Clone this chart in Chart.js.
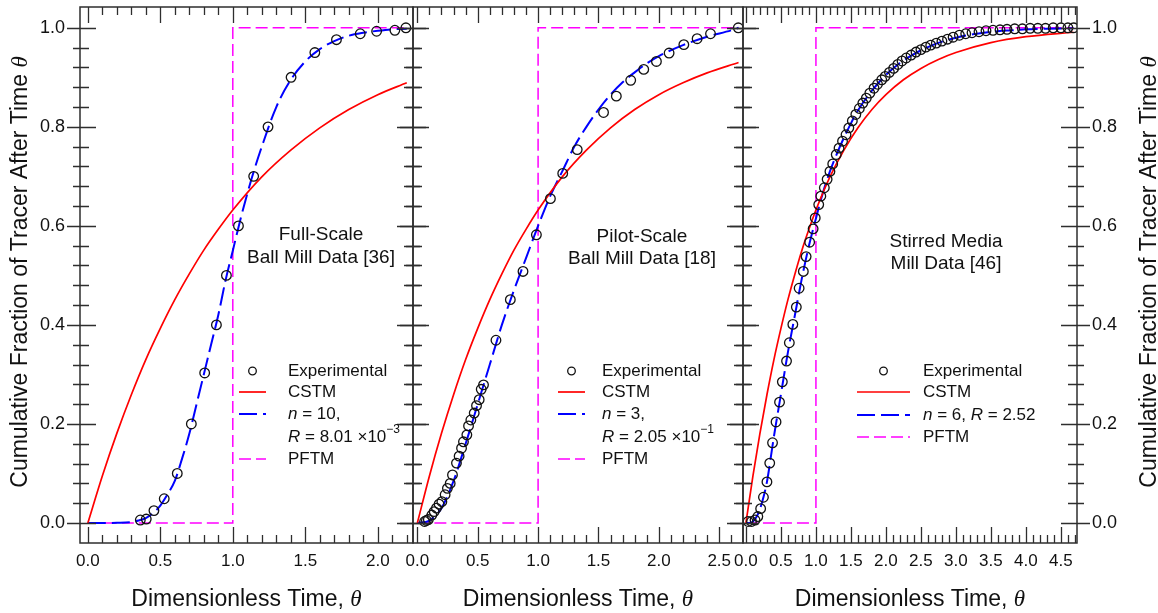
<!DOCTYPE html>
<html>
<head>
<meta charset="utf-8">
<title>Cumulative fraction of tracer vs dimensionless time</title>
<script src="https://cdn.jsdelivr.net/npm/chart.js@4.4.0/dist/chart.umd.min.js"></script>
<style>
  html, body { margin: 0; padding: 0; background: #fff; }
  #wrap { position: relative; width: 1158px; height: 613px; }
  #wrap canvas { position: absolute; left: 0; top: 0; }
</style>
</head>
<body>
<div id="wrap">
  <canvas id="full" width="1158" height="613"></canvas>
  <canvas id="pilot" width="1158" height="613"></canvas>
  <canvas id="stirred" width="1158" height="613"></canvas>
</div>
<script>
const FONT = '"Liberation Sans", Arial, sans-serif';
const SERIF = '"Liberation Serif", "Times New Roman", serif';

// shared y axis
const yTicks = [0.0, 0.2, 0.4, 0.6, 0.8, 1.0];

// full-scale ball mill [36]
const xTicks1 = [0.0, 0.5, 1.0, 1.5, 2.0];
const expTheta1 = [0.362, 0.403, 0.456, 0.527, 0.617, 0.714, 0.806, 0.887, 0.956, 1.039, 1.144, 1.243, 1.402, 1.566, 1.715, 1.879, 1.992, 2.118, 2.194];
const expF1 = [0.006, 0.008, 0.025, 0.049, 0.100, 0.200, 0.303, 0.400, 0.500, 0.600, 0.700, 0.800, 0.900, 0.950, 0.976, 0.988, 0.993, 0.995, 1.000];
const cstmTheta1 = [0, 0.1, 0.2, 0.3, 0.4, 0.5, 0.6, 0.7, 0.8, 0.9, 1.0, 1.2, 1.4, 1.6, 1.8, 2.0, 2.2];
const cstmF1 = [0, 0.095, 0.181, 0.259, 0.330, 0.393, 0.451, 0.503, 0.551, 0.593, 0.632, 0.699, 0.753, 0.798, 0.835, 0.865, 0.889];
const fitTheta1 = [0, 0.1, 0.2, 0.3, 0.35, 0.4, 0.45, 0.5, 0.55, 0.6, 0.65, 0.7, 0.75, 0.8, 0.85, 0.9, 0.95, 1.0, 1.05, 1.1, 1.15, 1.2, 1.3, 1.4, 1.5, 1.6, 1.7, 1.8, 1.9, 2.0, 2.1, 2.2];
const fitF1 = [0, 0, 0.0005, 0.002, 0.005, 0.01, 0.02, 0.035, 0.058, 0.085, 0.13, 0.18, 0.24, 0.30, 0.36, 0.42, 0.49, 0.55, 0.61, 0.665, 0.715, 0.76, 0.84, 0.895, 0.932, 0.957, 0.973, 0.984, 0.99, 0.994, 0.997, 0.998];
const pftmTheta1 = [0, 1, 1, 2.2];
const pftmF1 = [0, 0, 1, 1];

// pilot-scale ball mill [18]
const xTicks2 = [0.0, 0.5, 1.0, 1.5, 2.0, 2.5];
const expTheta2 = [0.06, 0.075, 0.091, 0.12, 0.139, 0.158, 0.18, 0.203, 0.23, 0.249, 0.272, 0.291, 0.324, 0.346, 0.366, 0.382, 0.41, 0.424, 0.443, 0.471, 0.49, 0.512, 0.529, 0.548, 0.651, 0.77, 0.875, 0.986, 1.102, 1.204, 1.324, 1.542, 1.648, 1.767, 1.875, 1.98, 2.085, 2.207, 2.317, 2.428, 2.658];
const expF2 = [0.003, 0.005, 0.007, 0.016, 0.023, 0.030, 0.038, 0.043, 0.057, 0.070, 0.080, 0.097, 0.121, 0.135, 0.151, 0.164, 0.178, 0.196, 0.208, 0.222, 0.237, 0.249, 0.270, 0.279, 0.369, 0.451, 0.508, 0.582, 0.655, 0.706, 0.754, 0.829, 0.862, 0.894, 0.916, 0.932, 0.949, 0.966, 0.978, 0.988, 1.000];
const cstmTheta2 = [0, 0.1, 0.2, 0.3, 0.4, 0.5, 0.6, 0.7, 0.8, 0.9, 1.0, 1.2, 1.4, 1.6, 1.8, 2.0, 2.2, 2.4, 2.66];
const cstmF2 = [0, 0.095, 0.181, 0.259, 0.330, 0.393, 0.451, 0.503, 0.551, 0.593, 0.632, 0.699, 0.753, 0.798, 0.835, 0.865, 0.889, 0.909, 0.930];
const fitTheta2 = [0, 0.1, 0.2, 0.3, 0.4, 0.5, 0.6, 0.7, 0.8, 0.9, 1.0, 1.1, 1.2, 1.3, 1.4, 1.5, 1.6, 1.7, 1.8, 1.9, 2.0, 2.2, 2.4, 2.6, 2.66];
const fitF2 = [0, 0.005, 0.03, 0.085, 0.16, 0.24, 0.32, 0.40, 0.47, 0.535, 0.60, 0.66, 0.71, 0.76, 0.80, 0.835, 0.865, 0.89, 0.91, 0.928, 0.943, 0.965, 0.982, 0.995, 1.0];
const pftmTheta2 = [0, 1, 1, 2.66];
const pftmF2 = [0, 0, 1, 1];

// stirred media mill [46]
const xTicks3 = [0.0, 0.5, 1.0, 1.5, 2.0, 2.5, 3.0, 3.5, 4.0, 4.5];
const expTheta3 = [0.03, 0.08, 0.13, 0.17, 0.21, 0.25, 0.30, 0.34, 0.38, 0.43, 0.48, 0.52, 0.58, 0.62, 0.67, 0.72, 0.76, 0.82, 0.86, 0.91, 0.96, 0.99, 1.04, 1.07, 1.12, 1.16, 1.20, 1.24, 1.29, 1.33, 1.38, 1.43, 1.47, 1.52, 1.57, 1.62, 1.67, 1.72, 1.77, 1.83, 1.88, 1.94, 1.99, 2.05, 2.11, 2.17, 2.23, 2.29, 2.36, 2.43, 2.50, 2.57, 2.64, 2.72, 2.80, 2.88, 2.96, 3.05, 3.14, 3.23, 3.33, 3.43, 3.53, 3.63, 3.73, 3.84, 3.95, 4.06, 4.17, 4.28, 4.39, 4.50, 4.60, 4.68];
const expF3 = [0.003, 0.003, 0.006, 0.013, 0.029, 0.052, 0.083, 0.121, 0.162, 0.204, 0.244, 0.285, 0.327, 0.364, 0.401, 0.436, 0.474, 0.508, 0.538, 0.567, 0.594, 0.616, 0.643, 0.660, 0.677, 0.694, 0.710, 0.725, 0.744, 0.757, 0.771, 0.784, 0.798, 0.812, 0.825, 0.837, 0.848, 0.858, 0.868, 0.878, 0.886, 0.895, 0.902, 0.910, 0.918, 0.926, 0.933, 0.939, 0.945, 0.951, 0.956, 0.961, 0.965, 0.969, 0.973, 0.977, 0.981, 0.985, 0.988, 0.990, 0.992, 0.994, 0.995, 0.996, 0.997, 0.998, 0.998, 0.999, 0.999, 0.999, 1.000, 1.000, 1.000, 1.000];
const cstmTheta3 = [0, 0.1, 0.2, 0.3, 0.4, 0.5, 0.6, 0.7, 0.8, 0.9, 1.0, 1.2, 1.4, 1.6, 1.8, 2.0, 2.25, 2.5, 2.75, 3.0, 3.5, 4.0, 4.68];
const cstmF3 = [0, 0.095, 0.181, 0.259, 0.330, 0.393, 0.451, 0.503, 0.551, 0.593, 0.632, 0.699, 0.753, 0.798, 0.835, 0.865, 0.895, 0.918, 0.936, 0.950, 0.970, 0.982, 0.991];
const fitTheta3 = [0, 0.05, 0.1, 0.15, 0.2, 0.25, 0.3, 0.4, 0.5, 0.6, 0.7, 0.8, 0.9, 1.0, 1.1, 1.2, 1.3, 1.4, 1.5, 1.6, 1.8, 2.0, 2.2, 2.4, 2.6, 2.8, 3.0, 3.2, 3.4, 3.6, 3.8, 4.0, 4.3, 4.68];
const fitF3 = [0, 0, 0.003, 0.012, 0.028, 0.052, 0.083, 0.175, 0.26, 0.345, 0.42, 0.495, 0.56, 0.615, 0.667, 0.71, 0.746, 0.778, 0.807, 0.833, 0.873, 0.905, 0.929, 0.947, 0.961, 0.972, 0.98, 0.986, 0.99, 0.993, 0.995, 0.997, 0.998, 0.999];
const pftmTheta3 = [0, 1, 1, 4.68];
const pftmF3 = [0, 0, 1, 1];

const pts = (xs, ys) => xs.map((x, i) => ({ x: x, y: ys[i] }));

// draws a run of text pieces (italic / superscript) one after another
function drawRuns(ctx, parts, x, y, size, align) {
  const fontOf = p => (p.it ? 'italic ' : '') + (p.sup ? Math.round(size * 0.68) : size) + 'px ' + (p.serif ? SERIF : FONT);
  let w = 0;
  parts.forEach(p => { ctx.font = fontOf(p); w += ctx.measureText(p.t).width; });
  let cx = align === 'center' ? x - w / 2 : x;
  ctx.textAlign = 'left';
  parts.forEach(p => {
    ctx.font = fontOf(p);
    ctx.fillText(p.t, cx, p.sup ? y - size * 0.42 : y);
    cx += ctx.measureText(p.t).width;
  });
}

const decor = {
  id: 'decor',
  afterDatasetsDraw(chart, args, o) {
    const { ctx, chartArea: a, scales: { x, y } } = chart;
    ctx.save();

    // frame with inward ticks
    ctx.strokeStyle = '#2e2e2e';
    ctx.lineWidth = 1.5;
    ctx.strokeRect(a.left, a.top, a.right - a.left, a.bottom - a.top);
    ctx.lineWidth = 1.3;
    ctx.beginPath();
    for (let i = Math.ceil(x.min * 10); i <= Math.floor(x.max * 10); i++) {
      const px = Math.round(x.getPixelForValue(i / 10)) + 0.5;
      const len = i % 5 === 0 ? 16 : 8;
      ctx.moveTo(px, a.bottom); ctx.lineTo(px, a.bottom - len);
      ctx.moveTo(px, a.top); ctx.lineTo(px, a.top + len);
    }
    for (let i = 0; i <= 25; i++) {
      const py = Math.round(y.getPixelForValue(i * 0.04)) + 0.5;
      const major = i % 5 === 0;
      const inn = major ? 16 : 9, out = major ? 13 : 7;
      ctx.moveTo(a.left - out, py); ctx.lineTo(a.left + inn, py);
      ctx.moveTo(a.right + out, py); ctx.lineTo(a.right - inn, py);
    }
    ctx.stroke();

    ctx.fillStyle = '#111';
    const theta = { t: '\u03b8', it: true, serif: true };

    // axis titles
    ctx.textBaseline = 'alphabetic';
    drawRuns(ctx, [{ t: 'Dimensionless Time, ' }, theta], (a.left + a.right) / 2, 606, 23, 'center');
    if (o.yTitleX) {
      ctx.save();
      ctx.translate(o.yTitleX, (a.top + a.bottom) / 2 - 3);
      ctx.rotate(-Math.PI / 2);
      drawRuns(ctx, [{ t: 'Cumulative Fraction of Tracer After Time ' }, theta], 0, 0, 23, 'center');
      ctx.restore();
    }

    // data set name
    ctx.textBaseline = 'middle';
    o.note.forEach((s, i) => drawRuns(ctx, [{ t: s }], o.noteX, o.noteY + i * o.noteGap, 19, 'center'));

    // legend
    const lg = o.legend;
    lg.rows.forEach(r => {
      if (r.ds !== undefined) {
        const ds = chart.data.datasets[r.ds];
        if (ds.type === 'scatter') {
          ctx.beginPath();
          ctx.arc(lg.sx + lg.len / 2, r.y, 3.8, 0, Math.PI * 2);
          ctx.strokeStyle = ds.borderColor; ctx.lineWidth = 1.3; ctx.setLineDash([]);
          ctx.stroke();
        } else {
          ctx.beginPath();
          ctx.moveTo(lg.sx, r.y); ctx.lineTo(lg.sx + lg.len, r.y);
          ctx.strokeStyle = ds.borderColor; ctx.lineWidth = ds.borderWidth;
          ctx.setLineDash(ds.borderDash || []);
          ctx.stroke();
          ctx.setLineDash([]);
        }
      }
      ctx.fillStyle = '#111';
      drawRuns(ctx, r.parts, lg.tx, r.y, 17, 'left');
    });
    ctx.restore();
  }
};

function makePanel(id, p) {
  const xFont = { size: 17, family: FONT };
  const yFont = { size: 18, family: FONT };
  new Chart(document.getElementById(id), {
    type: 'line',
    data: {
      datasets: [
        { type: 'scatter', label: 'Experimental', data: pts(p.expTheta, p.expF),
          pointRadius: 4.8, pointHoverRadius: 4.8, borderColor: '#111', borderWidth: 1.3,
          backgroundColor: 'rgba(0,0,0,0)', showLine: false },
        { label: 'CSTM', data: pts(p.cstmTheta, p.cstmF), borderColor: '#ff0000', borderWidth: 1.7,
          pointRadius: 0, cubicInterpolationMode: 'monotone', fill: false },
        { label: 'fit', data: pts(p.fitTheta, p.fitF), borderColor: '#0000ff', borderWidth: 2,
          borderDash: [18, 6], pointRadius: 0, cubicInterpolationMode: 'monotone', fill: false },
        { label: 'PFTM', data: pts(p.pftmTheta, p.pftmF), borderColor: '#ff00ff', borderWidth: 1.5,
          borderDash: [12, 5], pointRadius: 0, tension: 0, fill: false }
      ]
    },
    options: {
      responsive: false,
      animation: false,
      events: [],
      layout: { padding: { top: 7, bottom: 0, left: p.padLeft, right: p.padRight } },
      plugins: {
        legend: { display: false },
        tooltip: { enabled: false },
        decor: p.decor
      },
      scales: {
        x: {
          type: 'linear', position: 'bottom', min: p.xMin, max: p.xMax,
          afterBuildTicks: s => { s.ticks = p.xTicks.map(v => ({ value: v })); },
          afterFit: s => { s.height = 70; s.paddingLeft = 0; s.paddingRight = 0; },
          grid: { display: false, drawTicks: false }, border: { display: false },
          ticks: { font: xFont, color: '#111', padding: 8, autoSkip: false, maxRotation: 0,
                   callback: v => v.toFixed(1) }
        },
        y: {
          type: 'linear', position: p.yPos || 'left', display: !!p.yPos, min: -0.0404, max: 1.042,
          afterBuildTicks: s => { s.ticks = yTicks.map(v => ({ value: v })); },
          afterFit: s => { s.width = p.yWidth || 0; s.paddingTop = 0; s.paddingBottom = 0; },
          grid: { display: false, drawTicks: false }, border: { display: false },
          ticks: { font: yFont, color: '#111', padding: 15, autoSkip: false, callback: v => v.toFixed(1) }
        }
      }
    },
    plugins: [decor]
  });
}

makePanel('full', {
  expTheta: expTheta1, expF: expF1, cstmTheta: cstmTheta1, cstmF: cstmF1,
  fitTheta: fitTheta1, fitF: fitF1, pftmTheta: pftmTheta1, pftmF: pftmF1,
  xTicks: xTicks1, xMin: -0.054, xMax: 2.243,
  padLeft: 0, padRight: 745, yPos: 'left', yWidth: 80,
  decor: {
    yTitleX: 27,
    note: ['Full-Scale', 'Ball Mill Data [36]'], noteX: 321, noteY: 235, noteGap: 23,
    legend: { sx: 239, len: 27, tx: 288, rows: [
      { ds: 0, y: 371, parts: [{ t: 'Experimental' }] },
      { ds: 1, y: 392, parts: [{ t: 'CSTM' }] },
      { ds: 2, y: 414, parts: [{ t: 'n', it: true }, { t: ' = 10,' }] },
      { y: 437, parts: [{ t: 'R', it: true }, { t: ' = 8.01 \u00d710' }, { t: '\u22123', sup: true }] },
      { ds: 3, y: 459, parts: [{ t: 'PFTM' }] }
    ] }
  }
});

makePanel('pilot', {
  expTheta: expTheta2, expF: expF2, cstmTheta: cstmTheta2, cstmF: cstmF2,
  fitTheta: fitTheta2, fitF: fitF2, pftmTheta: pftmTheta2, pftmF: pftmF2,
  xTicks: xTicks2, xMin: -0.036, xMax: 2.697,
  padLeft: 413, padRight: 415,
  decor: {
    note: ['Pilot-Scale', 'Ball Mill Data [18]'], noteX: 642, noteY: 237, noteGap: 22,
    legend: { sx: 558, len: 27, tx: 602, rows: [
      { ds: 0, y: 371, parts: [{ t: 'Experimental' }] },
      { ds: 1, y: 392, parts: [{ t: 'CSTM' }] },
      { ds: 2, y: 414, parts: [{ t: 'n', it: true }, { t: ' = 3,' }] },
      { y: 437, parts: [{ t: 'R', it: true }, { t: ' = 2.05 \u00d710' }, { t: '\u22121', sup: true }] },
      { ds: 3, y: 459, parts: [{ t: 'PFTM' }] }
    ] }
  }
});

makePanel('stirred', {
  expTheta: expTheta3, expF: expF3, cstmTheta: cstmTheta3, cstmF: cstmF3,
  fitTheta: fitTheta3, fitF: fitF3, pftmTheta: pftmTheta3, pftmF: pftmF3,
  xTicks: xTicks3, xMin: -0.042, xMax: 4.73,
  padLeft: 743, padRight: 0, yPos: 'right', yWidth: 81,
  decor: {
    yTitleX: 1156,
    note: ['Stirred Media', 'Mill Data [46]'], noteX: 946, noteY: 242, noteGap: 22,
    legend: { sx: 857, len: 53, tx: 923, rows: [
      { ds: 0, y: 371, parts: [{ t: 'Experimental' }] },
      { ds: 1, y: 392, parts: [{ t: 'CSTM' }] },
      { ds: 2, y: 415, parts: [{ t: 'n', it: true }, { t: ' = 6, ' }, { t: 'R', it: true }, { t: ' = 2.52' }] },
      { ds: 3, y: 437, parts: [{ t: 'PFTM' }] }
    ] }
  }
});
</script>
</body>
</html>
